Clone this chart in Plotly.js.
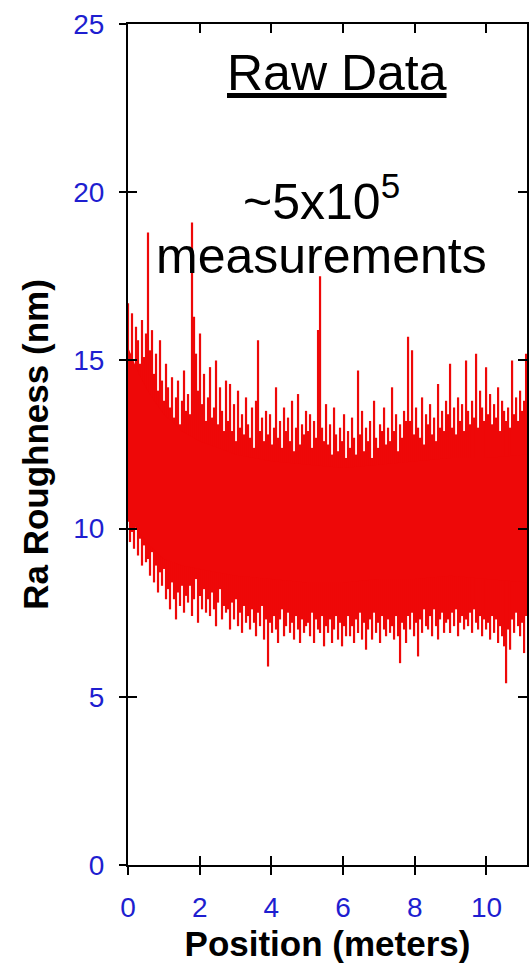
<!DOCTYPE html>
<html>
<head>
<meta charset="utf-8">
<script src="https://cdn.plot.ly/plotly-3.0.1.min.js"></script>
<style>html,body{margin:0;padding:0;background:#fff;}#chart{width:529px;height:967px;}</style>
</head>
<body>
<div id="chart"></div>
<script>
// Sampling grid: 200 bins of equal width along the track (meters)
const binStart = 0;
const binStep = 0.0558;

// Per-bin maxima of Ra roughness (nm)
const peakHi = [
  16.7, 15.2, 16.4, 14.8, 16.0, 15.6, 14.9, 16.2, 15.1, 15.8,
  18.8, 15.3, 15.9, 14.6, 15.2, 14.1, 15.6, 14.4, 13.8, 14.9,
  14.2, 13.6, 14.5, 13.3, 13.9, 14.4, 13.1, 13.8, 14.7, 13.5,
  14.0, 13.4, 19.1, 16.3, 15.2, 14.1, 15.8, 13.7, 14.6, 13.2,
  13.9, 14.8, 13.3, 13.6, 15.0, 13.1, 14.2, 13.5, 12.9, 14.4,
  13.2, 14.3, 12.9, 13.7, 12.6, 14.1, 13.0, 13.4, 12.8, 13.9,
  13.1, 12.7, 13.6, 12.4, 13.8, 15.6, 12.9, 13.3, 12.6, 13.5,
  12.8, 13.4, 12.5, 13.0, 14.2, 12.7, 13.2, 12.4, 13.6, 12.9,
  13.3, 12.6, 13.8, 12.3, 13.0, 14.0, 12.5, 13.1, 12.8, 13.5,
  12.9, 13.4, 12.4, 13.2, 12.7, 15.9, 17.5, 13.0, 12.6, 13.7,
  12.5, 13.1, 12.2, 13.6, 12.8, 12.3, 13.0, 12.6, 13.4, 12.1,
  12.9, 12.4, 13.3, 12.7, 12.2, 14.7, 12.8, 13.5, 12.3, 13.0,
  12.6, 13.2, 12.1, 13.8, 12.7, 12.4, 13.1, 12.9, 13.6, 12.5,
  13.0, 12.6, 14.2, 12.9, 13.4, 12.3, 13.1, 12.7, 13.5, 13.2,
  15.7, 13.2, 15.3, 12.8, 13.6, 13.0, 12.7, 13.9, 12.5, 13.4,
  13.1, 13.7, 12.8, 13.3, 12.6, 14.3, 13.0, 13.5, 12.9, 13.8,
  13.4, 14.9, 13.0, 13.6, 12.8, 13.9, 13.2, 13.7, 12.9, 15.0,
  13.5, 13.1, 13.8, 13.3, 15.2, 13.0, 14.1, 13.6, 13.2, 14.8,
  13.4, 14.0, 13.1, 13.7, 13.3, 14.2, 12.9, 13.8, 13.5, 13.2,
  13.6, 13.0, 15.0, 13.4, 13.9, 13.2, 14.1, 13.5, 13.8, 15.2
];

// Per-bin minima of Ra roughness (nm)
const peakLo = [
  10.2, 9.6, 9.9, 9.4, 10.1, 9.2, 9.7, 8.9, 9.5, 9.0,
  9.1, 8.6, 9.3, 8.4, 8.9, 8.1, 8.7, 8.3, 8.8, 7.9,
  8.2, 7.6, 8.4, 7.9, 7.3, 8.1, 7.7, 8.3, 7.5, 8.0,
  7.8, 8.3, 7.4, 7.9, 8.5, 7.2, 8.0, 7.6, 8.2, 7.5,
  7.9, 7.4, 8.1, 7.6, 7.1, 7.8, 8.2, 7.3, 7.7, 7.5,
  7.6, 7.0, 7.8, 7.3, 7.9, 7.1, 7.5, 6.9, 7.7, 7.2,
  7.4, 7.0, 7.6, 7.2, 6.8, 7.5, 7.1, 7.7, 6.7, 7.3,
  5.9, 7.2, 6.9, 7.4, 7.0, 6.6, 7.3, 7.6, 6.8, 7.1,
  7.5, 6.9, 7.2, 6.7, 7.4, 7.0, 6.6, 7.3, 6.9, 7.1,
  7.2, 6.8, 7.5, 6.6, 7.3, 7.0, 6.9, 7.4, 6.5, 7.1,
  6.9, 7.3, 6.6, 7.0, 7.4, 6.7, 7.2, 6.5, 7.1, 6.8,
  7.4, 6.8, 7.1, 6.6, 7.3, 6.9, 7.5, 6.7, 7.2, 6.4,
  7.0, 7.3, 6.7, 7.5, 6.9, 7.2, 6.6, 7.4, 7.0, 6.8,
  7.3, 6.9, 7.1, 6.7, 7.4, 6.8, 6.0, 7.2, 7.0, 6.6,
  7.4, 7.0, 7.5, 6.8, 7.2, 6.2, 7.3, 6.9, 7.6, 7.1,
  7.0, 7.4, 6.8, 7.6, 7.1, 6.7, 7.3, 7.5, 6.9, 7.2,
  7.3, 6.9, 7.5, 7.1, 7.6, 6.8, 7.2, 7.4, 7.0, 7.3,
  7.1, 7.5, 6.9, 7.6, 7.2, 7.0, 7.4, 6.8, 7.3, 7.0,
  7.2, 6.7, 7.4, 6.9, 7.3, 6.6, 7.1, 6.8, 6.5, 5.4,
  7.0, 6.4, 7.3, 6.9, 7.5, 7.1, 6.8, 7.2, 6.3, 7.4
];

const coreX  = [0, 0.3, 0.6, 1.0, 1.5, 2.0, 2.5, 3.0, 4.0, 5.0, 6.0, 7.0, 8.0, 9.0, 10.0, 11.13];
const coreHi = [15.4, 14.6, 14.0, 13.4, 12.9, 12.6, 12.4, 12.2, 12.0, 11.9, 11.8, 11.9, 12.0, 12.1, 12.1, 12.2];
const coreLo = [10.3, 9.9, 9.5, 9.1, 8.9, 8.8, 8.7, 8.6, 8.5, 8.4, 8.4, 8.5, 8.5, 8.6, 8.5, 8.4];

const xTickVals = [0, 2, 4, 6, 8, 10];
const yTickVals = [0, 5, 10, 15, 20, 25];

const RED = 'rgb(238,8,8)';
const BLUE = '#1e1ed0';
const FONT = 'Liberation Sans, Arial, sans-serif';

// Build min/max spike segments from the per-bin arrays
const sx = [], sy = [];
for (let i = 0; i < peakHi.length; i++) {
  const x = binStart + i * binStep;
  sx.push(x, x, null);
  sy.push(peakHi[i], peakLo[i], null);
}

const traces = [
  { x: sx, y: sy, type: 'scatter', mode: 'lines', line: { color: RED, width: 2.2 },
    connectgaps: false, hoverinfo: 'skip', showlegend: false, xaxis: 'x', yaxis: 'y' },
  { x: coreX, y: coreLo, type: 'scatter', mode: 'lines', line: { color: RED, width: 0 },
    hoverinfo: 'skip', showlegend: false, xaxis: 'x2', yaxis: 'y2' },
  { x: coreX, y: coreHi, type: 'scatter', mode: 'lines', line: { color: RED, width: 0 },
    fill: 'tonexty', fillcolor: RED, hoverinfo: 'skip', showlegend: false, xaxis: 'x2', yaxis: 'y2' }
];

const xr = [0, 11.13], yr = [0, 25];

const layout = {
  width: 529, height: 967,
  margin: { l: 128, r: 2, t: 24, b: 102 },
  paper_bgcolor: '#fff', plot_bgcolor: '#fff',
  showlegend: false,
  hovermode: false,
  xaxis: {
    range: xr, tickvals: xTickVals, ticks: 'inside', ticklen: 9, tickwidth: 2, tickcolor: '#000',
    showline: true, linewidth: 2, linecolor: '#000', mirror: 'ticks',
    showgrid: false, zeroline: false, fixedrange: true,
    tickfont: { family: FONT, size: 28, color: BLUE },
    ticklabelstandoff: 16,
    title: { text: '<b>Position (meters)</b>', font: { family: FONT, size: 35, color: '#000' }, standoff: 10 }
  },
  yaxis: {
    range: yr, tickvals: yTickVals, ticks: 'inside', ticklen: 9, tickwidth: 2, tickcolor: '#000',
    showline: true, linewidth: 2, linecolor: '#000', mirror: 'ticks',
    showgrid: false, zeroline: false, fixedrange: true,
    tickfont: { family: FONT, size: 28, color: BLUE },
    ticklabelstandoff: 16,
    title: { text: '<b>Ra Roughness (nm)</b>', font: { family: FONT, size: 35, color: '#000' }, standoff: 14 }
  },
  xaxis2: {
    range: xr, tickvals: xTickVals, overlaying: 'x', anchor: 'y2', side: 'bottom',
    ticks: 'outside', ticklen: 9, tickwidth: 2, tickcolor: '#000',
    showticklabels: false, showline: false, showgrid: false, zeroline: false, fixedrange: true
  },
  yaxis2: {
    range: yr, tickvals: yTickVals, overlaying: 'y', anchor: 'x2', side: 'left',
    ticks: 'outside', ticklen: 8, tickwidth: 2, tickcolor: '#000',
    showticklabels: false, showline: false, showgrid: false, zeroline: false, fixedrange: true
  },
  annotations: [
    { text: '<u>Raw Data</u>', xref: 'paper', yref: 'paper', x: 0.524, y: 0.978,
      xanchor: 'center', yanchor: 'top', showarrow: false,
      font: { family: FONT, size: 50, color: '#000' } },
    { text: '~5x10<sup>5</sup>', xref: 'paper', yref: 'paper', x: 0.486, y: 0.834,
      xanchor: 'center', yanchor: 'top', showarrow: false,
      font: { family: FONT, size: 50, color: '#000' } },
    { text: 'measurements', xref: 'paper', yref: 'paper', x: 0.486, y: 0.760,
      xanchor: 'center', yanchor: 'top', showarrow: false,
      font: { family: FONT, size: 50, color: '#000' } }
  ]
};

Plotly.newPlot('chart', traces, layout, { displayModeBar: false, staticPlot: true });
</script>
</body>
</html>
